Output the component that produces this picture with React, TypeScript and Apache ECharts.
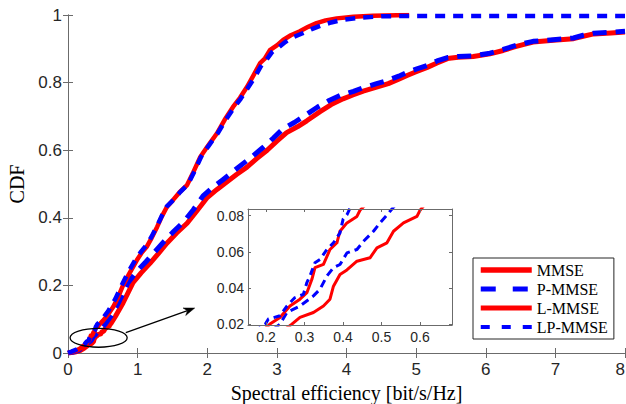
import React, { useEffect, useRef } from 'react';
import * as echarts from 'echarts';

// ---- data ----
const legendNames = ['MMSE', 'P-MMSE', 'L-MMSE', 'LP-MMSE'];
const insetXTicks = [0.2, 0.3, 0.4, 0.5, 0.6];
const insetYTicks = [0.02, 0.04, 0.06, 0.08];

const mmse: [number, number][] = [
  [0, 0], [0.1, 0.003], [0.18, 0.008], [0.23, 0.014], [0.267, 0.02], [0.288, 0.0237], [0.323, 0.0264],
  [0.349, 0.03], [0.366, 0.0338], [0.375, 0.041], [0.392, 0.0475], [0.41, 0.05], [0.436, 0.0548],
  [0.47, 0.0567], [0.488, 0.0622], [0.514, 0.065], [0.531, 0.0714], [0.557, 0.076], [0.592, 0.0796],
  [0.6, 0.083], [0.62, 0.088], [0.68, 0.108], [0.79, 0.148], [0.93, 0.207], [1.05, 0.237], [1.18, 0.266],
  [1.3, 0.295], [1.42, 0.325], [1.56, 0.355], [1.71, 0.384], [1.85, 0.42], [2.0, 0.46], [2.14, 0.484],
  [2.28, 0.506], [2.42, 0.528], [2.57, 0.55], [2.71, 0.575], [2.86, 0.6], [3.0, 0.627], [3.14, 0.652],
  [3.3, 0.67], [3.43, 0.687], [3.62, 0.714], [3.78, 0.735], [3.95, 0.752], [4.1, 0.764], [4.24, 0.775],
  [4.42, 0.786], [4.6, 0.797], [4.75, 0.81], [4.87, 0.821], [5.0, 0.832], [5.16, 0.845], [5.3, 0.858],
  [5.45, 0.871], [5.6, 0.875], [5.82, 0.877], [6.06, 0.885], [6.25, 0.895], [6.4, 0.905], [6.55, 0.913],
  [6.68, 0.92], [6.97, 0.925], [7.26, 0.93], [7.4, 0.937], [7.55, 0.944], [7.8, 0.947], [8, 0.95],
];

const pMmse: [number, number][] = [
  [0, 0], [0.08, 0.003], [0.15, 0.008], [0.2, 0.014], [0.236, 0.02], [0.254, 0.0264], [0.288, 0.03],
  [0.323, 0.0356], [0.34, 0.0393], [0.358, 0.0466], [0.375, 0.0512], [0.392, 0.053], [0.41, 0.0594],
  [0.436, 0.0613], [0.453, 0.0658], [0.479, 0.0714], [0.496, 0.076], [0.522, 0.0824], [0.54, 0.087],
  [0.62, 0.11], [0.73, 0.15], [0.86, 0.207], [0.98, 0.24], [1.12, 0.27], [1.25, 0.3], [1.38, 0.33],
  [1.52, 0.36], [1.67, 0.39], [1.8, 0.424], [1.94, 0.465], [2.08, 0.49], [2.22, 0.512], [2.36, 0.535],
  [2.5, 0.558], [2.65, 0.582], [2.8, 0.608], [2.95, 0.636], [3.08, 0.662], [3.25, 0.682], [3.4, 0.702],
  [3.58, 0.727], [3.75, 0.747], [3.92, 0.763], [4.1, 0.774], [4.24, 0.785], [4.42, 0.796], [4.6, 0.807],
  [4.75, 0.819], [4.87, 0.83], [5.0, 0.84], [5.16, 0.851], [5.3, 0.864], [5.45, 0.874], [5.6, 0.877],
  [5.82, 0.879], [6.06, 0.887], [6.25, 0.898], [6.4, 0.908], [6.55, 0.916], [6.68, 0.922], [6.97, 0.927],
  [7.26, 0.932], [7.4, 0.94], [7.55, 0.946], [7.8, 0.949], [8, 0.952],
];

const lMmse: [number, number][] = [
  [0, 0], [0.06, 0.003], [0.13, 0.008], [0.18, 0.014], [0.21, 0.02], [0.236, 0.0237], [0.262, 0.03],
  [0.288, 0.0338], [0.306, 0.0374], [0.319, 0.0448], [0.327, 0.0512], [0.349, 0.053], [0.366, 0.0613],
  [0.384, 0.065], [0.392, 0.0714], [0.41, 0.076], [0.436, 0.0796], [0.444, 0.083], [0.5, 0.095],
  [0.58, 0.115], [0.65, 0.137], [0.72, 0.165], [0.79, 0.2], [0.88, 0.235], [0.99, 0.275], [1.06, 0.297],
  [1.13, 0.314], [1.2, 0.34], [1.28, 0.373], [1.35, 0.405], [1.42, 0.432], [1.51, 0.453], [1.6, 0.475],
  [1.71, 0.497], [1.8, 0.535], [1.9, 0.58], [2.0, 0.61], [2.14, 0.65], [2.25, 0.69], [2.37, 0.728],
  [2.47, 0.755], [2.57, 0.787], [2.66, 0.82], [2.76, 0.858], [2.83, 0.872], [2.9, 0.896], [3.0, 0.91],
  [3.09, 0.926], [3.2, 0.94], [3.33, 0.952], [3.45, 0.965], [3.57, 0.976], [3.7, 0.984], [3.86, 0.99],
  [4.1, 0.995], [4.38, 0.998], [4.9, 1.0],
];

const lpMmse: [number, number][] = [
  [0, 0], [0.05, 0.004], [0.12, 0.01], [0.17, 0.016], [0.198, 0.02], [0.206, 0.0228], [0.236, 0.0246],
  [0.254, 0.03], [0.275, 0.0347], [0.297, 0.0365], [0.306, 0.043], [0.314, 0.0466], [0.327, 0.054],
  [0.34, 0.0558], [0.358, 0.0613], [0.375, 0.065], [0.392, 0.0705], [0.4, 0.078], [0.41, 0.0805],
  [0.42, 0.085], [0.49, 0.1], [0.58, 0.125], [0.68, 0.16], [0.77, 0.2], [0.86, 0.237], [0.97, 0.277],
  [1.05, 0.3], [1.12, 0.318], [1.2, 0.344], [1.28, 0.376], [1.35, 0.407], [1.42, 0.434], [1.52, 0.454],
  [1.61, 0.476], [1.72, 0.498], [1.81, 0.535], [1.91, 0.58], [2.01, 0.61], [2.15, 0.65], [2.26, 0.688],
  [2.38, 0.725], [2.48, 0.752], [2.58, 0.783], [2.68, 0.815], [2.78, 0.852], [2.85, 0.867], [2.93, 0.89],
  [3.03, 0.905], [3.12, 0.92], [3.23, 0.934], [3.37, 0.946], [3.5, 0.958], [3.62, 0.968], [3.78, 0.978],
  [3.95, 0.986], [4.2, 0.992], [4.5, 0.996], [4.8, 0.997], [8, 0.997],
];

// annotation (data coordinates)
const ellipseCenter: [number, number] = [0.44, 0.045];
const ellipseRadius: [number, number] = [0.41, 0.028];
const arrowStart: [number, number] = [0.83, 0.06];
const arrowEnd: [number, number] = [1.82, 0.133];

const AXIS_COLOR = '#262626';
const AXIS_LINE_COLOR = '#6b6b6b';
const RED = '#ff0000';
const BLUE = '#0000ff';

export default function App() {
  const ref = useRef<HTMLDivElement>(null);
  useEffect(() => {
    document.body.style.margin = '0';
    const chart = echarts.init(ref.current!, null, { renderer: 'svg' });

    const tickFont = { fontFamily: 'Liberation Sans', color: AXIS_COLOR };
    const line = { show: true, lineStyle: { color: AXIS_LINE_COLOR, width: 1 } };
    const tick = (len: number, extra: any = {}) => ({
      inside: true, length: len, lineStyle: { color: AXIS_LINE_COLOR, width: 1 }, ...extra,
    });

    const mainSeries = [
      { name: 'MMSE', data: mmse, color: RED, width: 5, dash: 'solid' as any, legendWidth: 5.5, legendDash: 'solid' as any },
      { name: 'P-MMSE', data: pMmse, color: BLUE, width: 5, dash: [14, 9], legendWidth: 5, legendDash: [15, 17] },
      { name: 'L-MMSE', data: lMmse, color: RED, width: 4.5, dash: 'solid' as any, legendWidth: 5, legendDash: 'solid' as any },
      { name: 'LP-MMSE', data: lpMmse, color: BLUE, width: 4.5, dash: [10, 8], legendWidth: 4, legendDash: [9, 12] },
    ];
    const insetStyle = [
      { width: 3, dash: 'solid' as any },
      { width: 3, dash: [8, 5] },
      { width: 3, dash: 'solid' as any },
      { width: 3, dash: [7, 5] },
    ];

    const series: any[] = [];
    mainSeries.forEach((s) => {
      series.push({
        type: 'line', name: s.name, data: s.data, xAxisIndex: 0, yAxisIndex: 0,
        showSymbol: false, symbol: 'none', color: s.color, z: 3,
        lineStyle: { color: s.color, width: s.width, type: s.dash, cap: 'butt', join: 'round' },
      });
    });
    mainSeries.forEach((s, i) => {
      series.push({
        type: 'line', name: s.name + ' (inset)', data: s.data, xAxisIndex: 2, yAxisIndex: 2,
        showSymbol: false, symbol: 'none', color: s.color, clip: true, z: 5,
        lineStyle: { color: s.color, width: insetStyle[i].width, type: insetStyle[i].dash, join: 'round' },
      });
    });

    const option: any = {
      animation: false,
      backgroundColor: '#fff',
      grid: [
        { left: 68, top: 15, width: 557, height: 338, outerBoundsMode: 'none', containLabel: false },
        {
          left: 248, top: 209, width: 204, height: 116, show: true, backgroundColor: '#fff',
          borderWidth: 0, outerBoundsMode: 'none', containLabel: false, z: 4,
        },
      ],
      xAxis: [
        {
          type: 'value', gridIndex: 0, position: 'bottom', min: 0, max: 8, interval: 1,
          axisLine: line, axisTick: tick(5),
          splitLine: { show: false },
          axisLabel: { ...tickFont, fontSize: 17, margin: 8, alignMaxLabel: 'right' },
          name: 'Spectral efficiency [bit/s/Hz]', nameLocation: 'middle', nameGap: 29,
          nameTextStyle: { fontFamily: 'Liberation Serif', fontSize: 20, color: '#000' },
        },
        {
          type: 'value', gridIndex: 0, position: 'top', min: 0, max: 8, interval: 1,
          axisLine: line, axisTick: tick(5),
          splitLine: { show: false }, axisLabel: { show: false },
        },
        {
          type: 'value', gridIndex: 1, position: 'bottom', min: 0.153, max: 0.683,
          axisLine: line,
          axisTick: tick(3, { customValues: insetXTicks }),
          splitLine: { show: false },
          axisLabel: {
            ...tickFont, fontSize: 14, margin: 5, customValues: insetXTicks,
            formatter: (v: number) => v.toFixed(1),
          },
          z: 6,
        },
        {
          type: 'value', gridIndex: 1, position: 'top', min: 0.153, max: 0.683,
          axisLine: line,
          axisTick: tick(3, { customValues: insetXTicks }),
          splitLine: { show: false }, axisLabel: { show: false }, z: 6,
        },
      ],
      yAxis: [
        {
          type: 'value', gridIndex: 0, position: 'left', min: 0, max: 1, interval: 0.2,
          axisLine: line, axisTick: tick(5),
          splitLine: { show: false },
          axisLabel: { ...tickFont, fontSize: 17, margin: 6, formatter: (v: number) => String(Math.round(v * 10) / 10) },
          name: 'CDF', nameLocation: 'middle', nameGap: 38, nameRotate: 90,
          nameTextStyle: { fontFamily: 'Liberation Serif', fontSize: 20, color: '#000' },
        },
        {
          type: 'value', gridIndex: 0, position: 'right', min: 0, max: 1, interval: 0.2,
          axisLine: line, axisTick: tick(5),
          splitLine: { show: false }, axisLabel: { show: false },
        },
        {
          type: 'value', gridIndex: 1, position: 'left', min: 0.0195, max: 0.0837,
          axisLine: line,
          axisTick: tick(3, { customValues: insetYTicks }),
          splitLine: { show: false },
          axisLabel: {
            ...tickFont, fontSize: 14, margin: 4, customValues: insetYTicks,
            formatter: (v: number) => v.toFixed(2),
          },
          z: 6,
        },
        {
          type: 'value', gridIndex: 1, position: 'right', min: 0.0195, max: 0.0837,
          axisLine: line,
          axisTick: tick(3, { customValues: insetYTicks }),
          splitLine: { show: false }, axisLabel: { show: false }, z: 6,
        },
      ],
      legend: {
        data: legendNames.map((n, i) => ({
          name: n,
          lineStyle: {
            color: mainSeries[i].color, width: mainSeries[i].legendWidth,
            type: mainSeries[i].legendDash, cap: 'butt',
          },
        })),
        orient: 'vertical', left: 473, top: 258,
        itemWidth: 51, itemHeight: 16, itemGap: 3, padding: [4, 6, 4, 5],
        borderColor: AXIS_COLOR, borderWidth: 1, backgroundColor: '#fff', selectedMode: false,
        itemStyle: { opacity: 0, color: 'transparent', borderWidth: 0 },
        textStyle: { fontFamily: 'Liberation Serif', fontSize: 16, color: '#000', lineHeight: 16 },
        z: 10,
      },
      series,
    };
    chart.setOption(option);

    // annotation computed from data coordinates through the main axes
    const toPx = (p: [number, number]) => chart.convertToPixel({ gridIndex: 0 }, p) as number[];
    const c = toPx(ellipseCenter);
    const e = toPx([ellipseCenter[0] + ellipseRadius[0], ellipseCenter[1] + ellipseRadius[1]]);
    const rx = Math.abs(e[0] - c[0]);
    const ry = Math.abs(e[1] - c[1]);
    const a0 = toPx(arrowStart);
    const a1 = toPx(arrowEnd);
    const dx = a1[0] - a0[0];
    const dy = a1[1] - a0[1];
    const len = Math.sqrt(dx * dx + dy * dy);
    const ux = dx / len;
    const uy = dy / len;
    const headLen = 11;
    const headHalf = 4;
    const base = [a1[0] - ux * headLen, a1[1] - uy * headLen];
    const notch = [a1[0] - ux * headLen * 0.7, a1[1] - uy * headLen * 0.7];
    const left = [base[0] - uy * headHalf, base[1] + ux * headHalf];
    const right = [base[0] + uy * headHalf, base[1] - ux * headHalf];

    chart.setOption({
      graphic: [
        {
          type: 'ellipse', shape: { cx: c[0], cy: c[1], rx, ry }, z: 20,
          style: { fill: 'none', stroke: '#000', lineWidth: 1.3 },
        },
        {
          type: 'line', shape: { x1: a0[0], y1: a0[1], x2: notch[0], y2: notch[1] }, z: 20,
          style: { stroke: '#000', lineWidth: 1.3 },
        },
        {
          type: 'polygon', shape: { points: [a1, left, notch, right] }, z: 20,
          style: { fill: '#000', stroke: '#000', lineWidth: 0.5 },
        },
      ],
    });

    return () => chart.dispose();
  }, []);
  return <div ref={ref} style={{ position: 'absolute', left: 0, top: 0, width: 626, height: 404 }} />;
}
